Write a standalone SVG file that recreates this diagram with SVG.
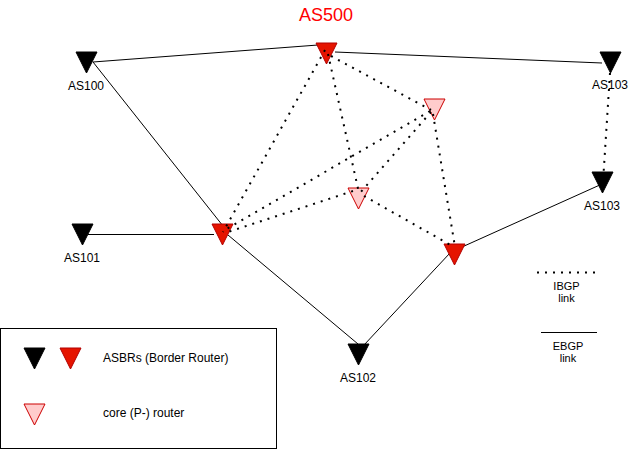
<svg xmlns="http://www.w3.org/2000/svg" xmlns:xlink="http://www.w3.org/1999/xlink" width="629" height="457" viewBox="0 0 629 457">
<style>
text{font-family:"Liberation Sans",Arial,Helvetica,sans-serif;fill:#000}
.lbl{font-size:12px;text-anchor:middle}
.sm{font-size:11px;text-anchor:middle}
.blk{fill:#000;stroke:#000;stroke-width:1}
.red{fill:#e51400;stroke:#b20000;stroke-width:1}
.pink{fill:#ffcccc;stroke:#cc0000;stroke-width:1}
.ebgp{stroke:#000;stroke-width:1;fill:none}
.ibgp{stroke:#000;stroke-width:2;stroke-dasharray:2 6;fill:none}
</style>
<defs>
<path id="tri" d="M0 0H21L10.5 21Z"/>
</defs>
<rect width="629" height="457" fill="#fff"/>
<text x="326" y="20.7" style="font-size:18px;text-anchor:middle;fill:#ff0000">AS500</text>
<g id="ebgp-links">
<line class="ebgp" x1="93" y1="62" x2="318" y2="45"/>
<line class="ebgp" x1="335" y1="52" x2="602" y2="63"/>
<line class="ebgp" x1="93" y1="62" x2="223" y2="226"/>
<line class="ebgp" x1="88" y1="234.5" x2="214" y2="234.5"/>
<line class="ebgp" x1="228" y1="235" x2="358" y2="344"/>
<line class="ebgp" x1="450" y1="253" x2="364" y2="345"/>
<line class="ebgp" x1="462" y1="247" x2="602" y2="184"/>
</g>
<g id="AS100"><use href="#tri" class="blk" x="76" y="52"/><text class="lbl" x="86" y="90">AS100</text></g>
<g id="AS101"><use href="#tri" class="blk" x="72" y="224"/><text class="lbl" x="82" y="262">AS101</text></g>
<g id="AS102"><use href="#tri" class="blk" x="348" y="344"/><text class="lbl" x="358" y="382">AS102</text></g>
<g id="AS103a"><use href="#tri" class="blk" x="600" y="52"/><text class="lbl" x="610" y="89">AS103</text></g>
<g id="AS103b"><use href="#tri" class="blk" x="592" y="172"/><text class="lbl" x="602" y="209.5">AS103</text></g>
<g id="R0"><use href="#tri" class="red" x="316" y="43"/></g>
<g id="R1"><use href="#tri" class="red" x="212" y="224"/></g>
<g id="R2"><use href="#tri" class="red" x="444" y="244"/></g>
<g id="P1"><use href="#tri" class="pink" x="424" y="99"/></g>
<g id="P2"><use href="#tri" class="pink" x="348" y="188"/></g>
<g id="ibgp-links">
<line class="ibgp" x1="325" y1="50" x2="223" y2="232"/>
<line class="ibgp" x1="328" y1="54" x2="359" y2="193"/>
<line class="ibgp" x1="331" y1="56" x2="431" y2="110"/>
<line class="ibgp" x1="430" y1="111" x2="225" y2="230"/>
<line class="ibgp" x1="431" y1="112" x2="360" y2="193"/>
<line class="ibgp" x1="433" y1="114" x2="455" y2="247"/>
<line class="ibgp" x1="353" y1="191" x2="225" y2="233"/>
<line class="ibgp" x1="364" y1="196" x2="454" y2="247"/>
<line class="ibgp" x1="610" y1="73" x2="603" y2="182"/>
</g>
<g id="legend">
<rect x="0.5" y="328.5" width="276" height="120" fill="#fff" stroke="#000" stroke-width="1"/>
<use href="#tri" class="blk" x="24" y="348"/>
<use href="#tri" class="red" x="60" y="348"/>
<text x="103" y="362" style="font-size:12px">ASBRs (Border Router)</text>
<use href="#tri" class="pink" x="24" y="404"/>
<text x="103" y="417" style="font-size:12px">core (P-) router</text>
</g>
<g id="legend-ibgp">
<line class="ibgp" x1="537" y1="272.5" x2="597" y2="272.5"/>
<text class="sm" x="566.5" y="290">IBGP</text>
<text class="sm" x="566.5" y="301.5">link</text>
</g>
<g id="legend-ebgp">
<line class="ebgp" x1="541" y1="332.5" x2="597" y2="332.5"/>
<text class="sm" x="568" y="350">EBGP</text>
<text class="sm" x="568" y="362">link</text>
</g>
</svg>
